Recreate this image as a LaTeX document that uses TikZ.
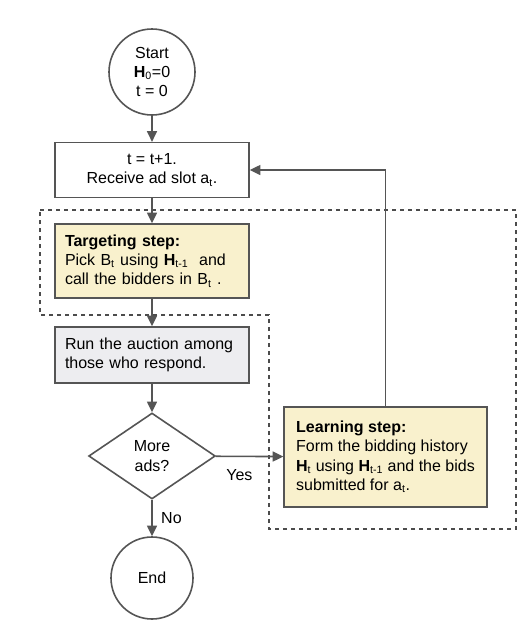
\documentclass[tikz,border=0pt]{standalone}
\usepackage{fontspec}
\setmainfont{Liberation Sans}
\usetikzlibrary{shapes.geometric,arrows.meta}
\definecolor{linegray}{HTML}{555555}
\definecolor{stepyellow}{HTML}{F9F1CD}
\definecolor{rungray}{HTML}{EDEDF0}

\begin{document}
\begin{tikzpicture}[x=0.75pt,y=-0.75pt,
	font=\fontsize{12}{14.5}\selectfont,
	block/.style={draw=linegray,line width=1.2pt,rectangle,inner xsep=7.5pt},
	term/.style={draw=linegray,line width=1.2pt,circle,inner sep=0pt,align=center},
	flow/.style={draw=linegray,line width=1.2pt,-{Triangle[length=8pt,width=7.5pt]}},
	region/.style={draw=black!70,dashed,line width=0.8pt}]
	%\draw[help lines, thick] (0,0) grid (530,636);
	\useasboundingbox (0,0) rectangle (530,636);
	\draw[region] (40,210)--(516,210)--(516,529)--(269,529)--(269,315)--(40,315)--cycle;
	\node[term,minimum size=64.5pt] (start) at (152,72) {Start\\\textbf{H}\textsubscript{0}=0\\t = 0};
	\node[block,align=center,minimum width=145.5pt,minimum height=41pt] (recv) at (152,170) {t = t+1.\\Receive ad slot a\textsubscript{t}.};
	\node[block,align=left,fill=stepyellow,text width=130.5pt,minimum height=55.5pt] (target) at (152,261) {\textbf{Targeting step:}\\Pick B\textsubscript{t} using \textbf{H}\textsubscript{t-1}~ and\\call the bidders in B\textsubscript{t} .};
	\node[block,align=left,fill=rungray,text width=130.5pt,minimum height=42pt] (auction) at (152,355) {Run the auction among\\those who respond.};
	\node[draw=linegray,line width=1.2pt,diamond,inner sep=0pt,minimum width=95pt,minimum height=64.5pt,align=center] (more) at (152,456) {More\\ads?};
	\node[block,align=left,fill=stepyellow,minimum width=152pt,minimum height=75pt] (learn) at (385.5,457) {\textbf{Learning step:}\\Form the bidding history\\\textbf{H}\textsubscript{t} using \textbf{H}\textsubscript{t-1} and the bids\\submitted for a\textsubscript{t}.};
	\node[term,minimum size=61.5pt] (end) at (152,578) {End};
	\draw[flow] (start)--(recv);
	\draw[flow] (recv)--(target);
	\draw[flow] (target)--(auction);
	\draw[flow] (auction)--(more);
	\draw[flow] (more)--node[pos=0.35,below,yshift=-6pt] (yes) {Yes} (learn);
	\draw[flow] (more)--node[right,xshift=3pt] (no) {No} (end);
	\draw[flow] (learn.north) |- (recv.east);
\end{tikzpicture}
\end{document}
